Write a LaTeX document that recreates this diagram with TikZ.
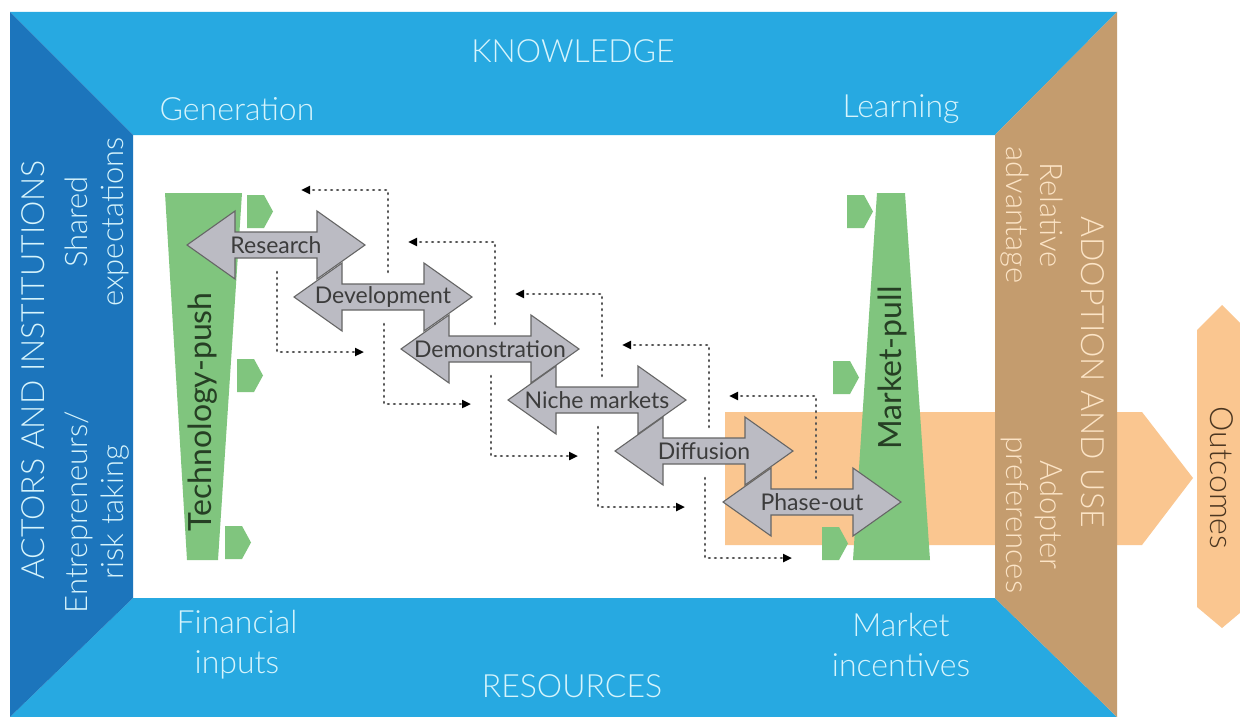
\documentclass[tikz,border=0pt]{standalone}
\usepackage{fontspec}
\setmainfont{Lato}[UprightFont=* Light]
\newfontfamily\latoreg{Lato}
\usetikzlibrary{arrows.meta,calc}
\definecolor{bandblue}{HTML}{27A9E1}
\definecolor{darkblue}{HTML}{1C75BC}
\definecolor{brownband}{HTML}{C49C6E}
\definecolor{orangeband}{HTML}{FAC690}
\definecolor{greenbar}{HTML}{80C57E}
\definecolor{arrowgray}{HTML}{BBBBC3}
\definecolor{arrowedge}{HTML}{666666}
\definecolor{paleblue}{HTML}{D6F4FC}
\definecolor{palebrown}{HTML}{FCE4C6}
\definecolor{darkgreen}{HTML}{263F24}
\definecolor{textgray}{HTML}{3C3C3C}
\definecolor{dotgray}{HTML}{555555}
\definecolor{outtxt}{HTML}{4B3621}
\newcommand\garrow[4]{%
  \coordinate (#1) at (#2,#3);
  \path[garr] ($(#1)+(-89,0)$) -- ++(48,-34) -- ++(0,21) -- ++(82,0) -- ++(0,-21)
     -- ++(48,34) -- ++(-48,34) -- ++(0,-21) -- ++(-82,0) -- ++(0,21) -- cycle;
  \node[glab] (#1-t) at (#1) {#4};}
\begin{document}
\begin{tikzpicture}[x=1pt,y=-1pt,
  bandtxt/.style={text=paleblue,font=\fontsize{32}{40}\selectfont,align=center,inner sep=0pt},
  sidetxt/.style={text=paleblue,font=\fontsize{31}{36}\selectfont,align=center,inner sep=0pt},
  browntxt/.style={text=palebrown,font=\fontsize{31}{34}\selectfont,align=center,inner sep=0pt},
  garr/.style={fill=arrowgray,draw=arrowedge,line width=1.1pt,line join=miter},
  glab/.style={text=textgray,font=\latoreg\fontsize{23}{25}\selectfont,inner sep=0pt},
  greentab/.style={fill=greenbar,draw=none},
  dotline/.style={draw=dotgray,line width=2.6pt,dash pattern=on 0.8pt off 5.2pt,line cap=round},
  fb/.style={dotline,-{Triangle[length=9pt,width=8pt,color=black]}},
  bartxt/.style={text=darkgreen,font=\latoreg\fontsize{32}{36}\selectfont,inner sep=0pt}]
\useasboundingbox (0,0) rectangle (1240,717);
\fill[white] (0,0) rectangle (1240,717);
% frame bands
\fill[bandblue] (10,12) -- (1117,12) -- (995,135) -- (133,135) -- cycle;
\fill[bandblue] (133,598) -- (995,598) -- (1117,717) -- (10,717) -- cycle;
\fill[darkblue] (10,12) -- (133,135) -- (133,598) -- (10,717) -- cycle;
% orange band arrow and outcomes
\fill[orangeband] (725,412) -- (1142,412) -- (1193,478) -- (1142,545) -- (725,545) -- cycle;
\fill[orangeband] (1197,330) -- (1222,305) -- (1247,330) -- (1247,607) -- (1222,628) -- (1197,607) -- cycle;
\fill[brownband] (1117,12) -- (1117,717) -- (995,598) -- (995,135) -- cycle;
% green bars and tabs
\fill[greenbar] (165,193) -- (242,193) -- (218,560) -- (187,560) -- cycle;
\fill[greenbar] (877,193) -- (905,193) -- (930,560) -- (853,560) -- cycle;
\foreach \x/\y in {247/195,237/359,225/526,847/195,833/361,822/527}
  \fill[greentab] (\x,\y) -- ++(17,0) -- ++(9,16.5) -- ++(-9,16.5) -- ++(-17,0) -- cycle;
\node[bartxt,rotate=90] (techpush) at (203,412) {Technology-push};
\node[bartxt,rotate=90] (marketpull) at (892,368) {Market-pull};
% gray double arrows
\garrow{a1}{276}{245}{Research}
\garrow{a2}{383}{297}{Development}
\garrow{a3}{490}{349}{Demonstration}
\garrow{a4}{597}{400}{Niche markets}
\garrow{a5}{704}{451}{Diffusion}
\garrow{a6}{812}{502}{Phase-out}
% dotted feedback loops
\foreach \n in {a1,a2,a3,a4,a5}{
  \draw[fb] ($(\n)+(112,27)$) |- ($(\n)+(25,-55)$);
  \draw[fb] ($(\n)+(1,27)$) |- ($(\n)+(88,107)$);
}
% frame labels
\node[bandtxt] (knowledge) at (573,51) {KNOWLEDGE};
\node[bandtxt] (generation) at (237,109) {Generation};
\node[bandtxt] (learning) at (901,109) {Learning};
\node[bandtxt] (financial) at (237,645) {Financial\\inputs};
\node[bandtxt] (incentives) at (901,645) {Market\\incentives};
\node[bandtxt] (resources) at (572,686) {RESOURCES};
\node[bandtxt,rotate=90] (actors) at (33,370) {ACTORS AND INSTITUTIONS};
\node[sidetxt,rotate=90] (shared) at (97,222) {Shared\\expectations};
\node[sidetxt,rotate=90] (entre) at (97,512) {Entrepreneurs/\\risk taking};
\node[browntxt,rotate=-90,font=\fontsize{32}{34}\selectfont] (adoption) at (1093,372) {ADOPTION AND USE};
\node[browntxt,rotate=-90] (reladv) at (1032,215) {Relative\\advantage};
\node[browntxt,rotate=-90] (adoptpref) at (1032,515) {Adopter\\preferences};
\node[text=outtxt,font=\fontsize{32}{36}\selectfont,rotate=-90,inner sep=0pt] (outcomes) at (1222,478) {Outcomes};
\end{tikzpicture}
\end{document}
